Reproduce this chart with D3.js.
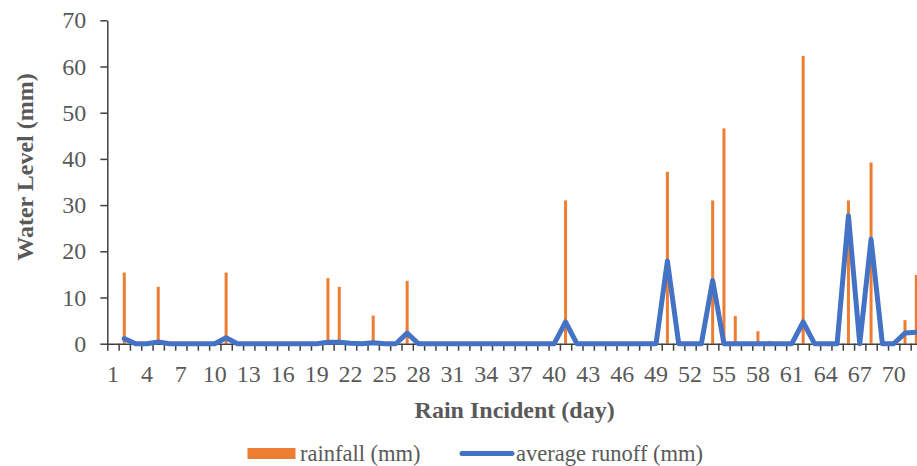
<!DOCTYPE html>
<html>
<head>
<meta charset="utf-8">
<script src="https://cdn.jsdelivr.net/npm/d3@7"></script>
<style>
  body { margin: 0; background: #fff; }
  svg { display: block; font-family: "Liberation Serif", "Times New Roman", serif; }
  .axis text { fill: #595959; font-size: 24px; font-family: "Liberation Serif", serif; }
  .axis path, .axis line { stroke: #404040; }
</style>
</head>
<body>
<script>
// days 1..72
const days = d3.range(1, 73);

// rainfall (mm), listed per day with a value
const rainDays = [2, 5, 11, 20, 21, 24, 27, 41, 50, 54, 55, 56, 58, 59, 62, 66, 68, 71, 72];
const rainValues = [15.4, 12.3, 15.4, 14.2, 12.3, 6.1, 13.6, 31.0, 37.2, 31.0, 46.6, 6.0, 2.7, 0.6, 62.3, 31.0, 39.2, 5.1, 14.9];

// average runoff (mm), one value per day (day 1 has none)
const runoff = [
  null, 1.1, 0, 0, 0.4, 0, 0, 0, 0, 0,
  1.3, 0, 0, 0, 0, 0, 0, 0, 0, 0.3,
  0.3, 0.1, 0, 0.2, 0, 0, 2.3, 0, 0, 0,
  0, 0, 0, 0, 0, 0, 0, 0, 0, 0,
  4.7, 0, 0, 0, 0, 0, 0, 0, 0, 17.9,
  0, 0, 0, 13.7, 0, 0, 0, 0, 0, 0,
  0, 4.7, 0, 0, 0, 27.7, 0, 22.6, 0, 0,
  2.3, 2.5
];

const yTicks = [0, 10, 20, 30, 40, 50, 60, 70];
const xLabels = days.filter(d => (d - 1) % 3 === 0);

const width = 917, height = 466;
const plotLeft = 107.3, plotTop = 20.3, plotBottom = 343.7;
const bandW = 11.315;
const plotRight = plotLeft + days.length * bandW;

const svg = d3.select("body")
  .append("svg")
  .attr("width", width)
  .attr("height", height);

const x = d3.scaleBand().domain(days).range([plotLeft, plotRight]).padding(0);
const xEdge = d3.scaleLinear().domain([0, days.length]).range([plotLeft, plotRight]);
const y = d3.scaleLinear().domain([0, 70]).range([plotBottom, plotTop]);

// y axis
svg.append("g")
  .attr("class", "axis")
  .attr("transform", `translate(${plotLeft},0)`)
  .call(d3.axisLeft(y).tickValues(yTicks).tickSize(7).tickPadding(14).tickSizeOuter(0))
  .call(g => g.selectAll("path, line").attr("stroke-width", 1.5));

// bars
const rain = rainDays.map((d, i) => ({ day: d, value: rainValues[i] }));
svg.selectAll(".bar")
  .data(rain)
  .enter()
  .append("rect")
  .attr("class", "bar")
  .attr("x", d => x(d.day) + x.bandwidth() / 2 - 1.5)
  .attr("width", 3)
  .attr("y", d => y(d.value))
  .attr("height", d => y(0) - y(d.value))
  .attr("fill", "#ED7D31");

// x axis: tick marks at category edges
svg.append("g")
  .attr("class", "axis")
  .attr("transform", `translate(0,${plotBottom})`)
  .call(d3.axisBottom(xEdge).tickValues(d3.range(0, days.length + 1)).tickSize(7).tickFormat("").tickSizeOuter(0))
  .call(g => g.selectAll("path, line").attr("stroke-width", 1.5));

// x axis labels
svg.append("g")
  .attr("class", "axis")
  .attr("transform", `translate(0,${plotBottom})`)
  .call(d3.axisBottom(x).tickValues(xLabels).tickSize(0).tickPadding(21))
  .call(g => g.select(".domain").remove());

// runoff line
const line = d3.line()
  .defined(d => d.value !== null)
  .x(d => x(d.day) + x.bandwidth() / 2)
  .y(d => y(d.value));

svg.append("path")
  .datum(days.map((d, i) => ({ day: d, value: runoff[i] })))
  .attr("fill", "none")
  .attr("stroke", "#4472C4")
  .attr("stroke-width", 5)
  .attr("stroke-linejoin", "round")
  .attr("stroke-linecap", "round")
  .attr("d", line);

// axis titles
svg.append("text")
  .attr("x", (plotLeft + plotRight) / 2)
  .attr("y", 417.5)
  .attr("text-anchor", "middle")
  .attr("font-size", 24)
  .attr("font-weight", "bold")
  .attr("fill", "#595959")
  .text("Rain Incident (day)");

svg.append("text")
  .attr("transform", "rotate(-90)")
  .attr("x", -167)
  .attr("y", 32.5)
  .attr("text-anchor", "middle")
  .attr("font-size", 24)
  .attr("font-weight", "bold")
  .attr("fill", "#595959")
  .text("Water Level (mm)");

// legend
const legend = svg.append("g").attr("transform", "translate(0,453.5)");
legend.append("rect")
  .attr("x", 247.5)
  .attr("y", -5.5)
  .attr("width", 48)
  .attr("height", 11)
  .attr("fill", "#ED7D31");
legend.append("text")
  .attr("x", 300)
  .attr("y", 7)
  .attr("font-size", 22.5)
  .attr("fill", "#595959")
  .text("rainfall (mm)");
legend.append("line")
  .attr("x1", 462)
  .attr("x2", 512)
  .attr("stroke", "#4472C4")
  .attr("stroke-width", 5)
  .attr("stroke-linecap", "round");
legend.append("text")
  .attr("x", 516)
  .attr("y", 7)
  .attr("font-size", 22.5)
  .attr("fill", "#595959")
  .text("average runoff (mm)");
</script>
</body>
</html>
